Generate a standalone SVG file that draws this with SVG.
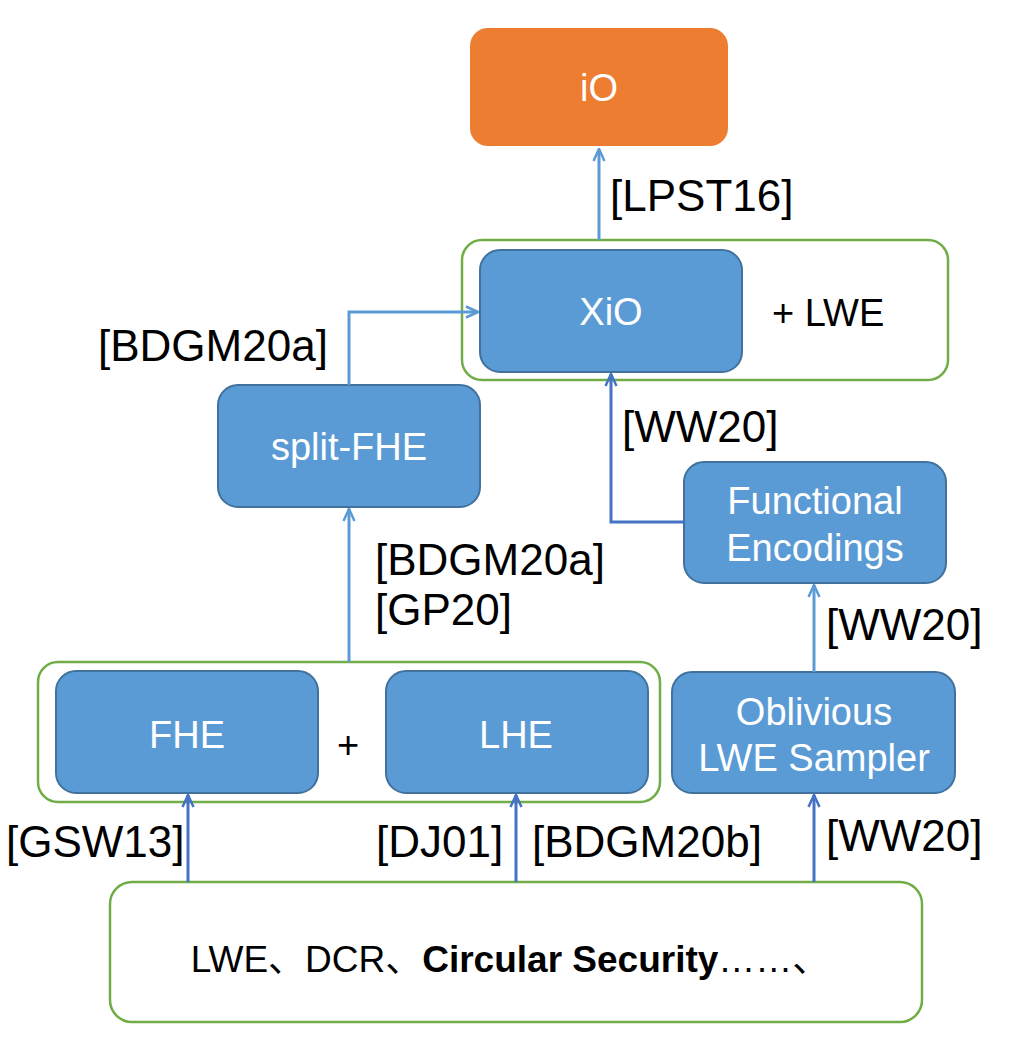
<svg xmlns="http://www.w3.org/2000/svg" width="1020" height="1052" viewBox="0 0 1020 1052">
<style>
.node{fill:#5B9BD5;stroke:#41719C;stroke-width:2}
.grp{fill:none;stroke:#70AD47;stroke-width:2.5}
.nt{font-family:"Liberation Sans",Arial,sans-serif;font-size:38px;fill:#fff;text-anchor:middle}
.lb{font-family:"Liberation Sans",Arial,sans-serif;font-size:44px;fill:#000}
.c1{fill:none;stroke:#5B9BD5;stroke-width:3}
.c2{fill:none;stroke:#4472C4;stroke-width:3}
</style>
<defs>
<marker id="a1" viewBox="0 0 14 14" refX="13" refY="7" markerWidth="14" markerHeight="14" markerUnits="userSpaceOnUse" orient="auto">
<path d="M1,1.5 L13,7 L1,12.5" fill="none" stroke="#5B9BD5" stroke-width="2.5"/>
</marker>
<marker id="a2" viewBox="0 0 14 14" refX="13" refY="7" markerWidth="14" markerHeight="14" markerUnits="userSpaceOnUse" orient="auto">
<path d="M1,1.5 L13,7 L1,12.5" fill="none" stroke="#4472C4" stroke-width="2.5"/>
</marker>
</defs>
<rect width="1020" height="1052" fill="#fff"/>
<g id="group-xio">
<rect class="grp" x="462" y="240" width="486" height="140" rx="20"/>
<text class="lb" x="772" y="326" style="font-size:38px">+ LWE</text>
</g>
<g id="group-fhe-lhe">
<rect class="grp" x="38" y="662" width="622" height="140" rx="20"/>
<text class="lb" x="348" y="758" style="font-size:38px;text-anchor:middle">+</text>
</g>
<g id="node-io">
<rect x="470" y="28" width="258" height="118" rx="18" fill="#ED7D31"/>
<text class="nt" x="599" y="101">iO</text>
</g>
<g id="node-xio">
<rect class="node" x="480" y="250" width="262" height="122" rx="20"/>
<text class="nt" x="611" y="325">XiO</text>
</g>
<g id="node-split-fhe">
<rect class="node" x="218" y="385" width="262" height="122" rx="20"/>
<text class="nt" x="349" y="460">split-FHE</text>
</g>
<g id="node-fe">
<rect class="node" x="684" y="462" width="262" height="121" rx="20"/>
<text class="nt" x="815" y="514">Functional</text>
<text class="nt" x="815" y="561">Encodings</text>
</g>
<g id="node-ols">
<rect class="node" x="672" y="672" width="283" height="121" rx="20"/>
<text class="nt" x="814" y="725">Oblivious</text>
<text class="nt" x="814" y="771">LWE Sampler</text>
</g>
<g id="node-fhe">
<rect class="node" x="56" y="671" width="262" height="122" rx="20"/>
<text class="nt" x="187" y="748">FHE</text>
</g>
<g id="node-lhe">
<rect class="node" x="386" y="671" width="262" height="122" rx="20"/>
<text class="nt" x="516" y="748">LHE</text>
</g>
<g id="node-assumptions">
<rect x="110" y="882" width="812" height="140" rx="22" fill="#fff" stroke="#70AD47" stroke-width="2.5"/>
<text x="510" y="972" style="font-family:'Liberation Sans','Noto Sans CJK SC',sans-serif;font-size:37px;fill:#000;text-anchor:middle">LWE、DCR、<tspan font-weight="bold">Circular Security</tspan>……、</text>
</g>
<g id="connectors">
<path class="c1" d="M599,240 V149" marker-end="url(#a1)"/>
<path class="c1" d="M349,385 V312 H478" marker-end="url(#a1)"/>
<path class="c1" d="M349,662 V509" marker-end="url(#a1)"/>
<path class="c2" d="M684,522 H611 V374" marker-end="url(#a2)"/>
<path class="c1" d="M814,672 V585" marker-end="url(#a1)"/>
<path class="c2" d="M188,882 V795" marker-end="url(#a2)"/>
<path class="c2" d="M516,882 V795" marker-end="url(#a2)"/>
<path class="c2" d="M814,882 V795" marker-end="url(#a2)"/>
</g>
<g id="labels">
<text class="lb" x="610" y="211">[LPST16]</text>
<text class="lb" x="98" y="361">[BDGM20a]</text>
<text class="lb" x="622" y="442">[WW20]</text>
<text class="lb" x="375" y="575">[BDGM20a]</text>
<text class="lb" x="375" y="625">[GP20]</text>
<text class="lb" x="826" y="640">[WW20]</text>
<text class="lb" x="6" y="857">[GSW13]</text>
<text class="lb" x="376" y="857">[DJ01]</text>
<text class="lb" x="532" y="857">[BDGM20b]</text>
<text class="lb" x="826" y="851">[WW20]</text>
</g>
</svg>
